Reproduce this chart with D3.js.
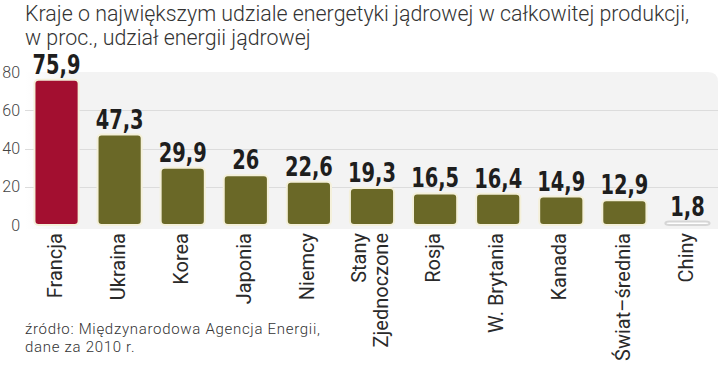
<!DOCTYPE html>
<html>
<head>
<meta charset="utf-8">
<script src="https://cdn.jsdelivr.net/npm/d3@7"></script>
<style>
  body { margin: 0; background: #fff; }
  svg { display: block; }
</style>
</head>
<body>
<svg width="720" height="376"></svg>
<script>
// dane
var countries = ['Francja', 'Ukraina', 'Korea', 'Japonia', 'Niemcy', 'Stany|Zjednoczone',
    'Rosja', 'W. Brytania', 'Kanada', 'Świat–średnia', 'Chiny'];
var values = [75.9, 47.3, 29.9, 26, 22.6, 19.3, 16.5, 16.4, 14.9, 12.9, 1.8];
var yTicks = [0, 20, 40, 60, 80];
var titleLines = ['Kraje o największym udziale energetyki jądrowej w całkowitej produkcji,',
    'w proc., udział energii jądrowej'];
var sourceLines = ['źródło: Międzynarodowa Agencja Energii,', 'dane za 2010 r.'];

var svg = d3.select('svg');
var lightFont = 'Roboto, "Open Sans", sans-serif';
var boldFont = '"DejaVu Sans Condensed", "DejaVu Sans", sans-serif';

var x = d3.scaleBand()
    .domain(countries)
    .range([25, 719])
    .paddingInner(0.3)
    .paddingOuter(0.15);

var y = d3.scaleLinear()
    .domain([0, 80])
    .range([225, 72]);

// tło wykresu
var defs = svg.append('defs');
var grad = defs.append('linearGradient')
    .attr('id', 'bgGrad')
    .attr('x1', 0).attr('x2', 1).attr('y1', 0).attr('y2', 0);
grad.append('stop').attr('offset', '0%').attr('stop-color', '#ffffff');
grad.append('stop').attr('offset', '6%').attr('stop-color', '#f3f3f3');
grad.append('stop').attr('offset', '100%').attr('stop-color', '#f3f3f3');

var bgTop = y(80), bgBottom = 229, bgLeft = 25, bgRight = 718, r = 10;
svg.append('path')
    .attr('d', 'M' + bgLeft + ',' + bgTop + ' H' + (bgRight - r) +
        ' Q' + bgRight + ',' + bgTop + ' ' + bgRight + ',' + (bgTop + r) +
        ' V' + bgBottom + ' H' + bgLeft + ' Z')
    .attr('fill', 'url(#bgGrad)');

// linie siatki
svg.append('g')
    .selectAll('line')
    .data(yTicks.filter(d => d > 0 && d < 80))
    .enter()
    .append('line')
    .attr('x1', bgLeft)
    .attr('x2', bgRight)
    .attr('y1', d => Math.round(y(d)) + 0.5)
    .attr('y2', d => Math.round(y(d)) + 0.5)
    .attr('stroke', '#dcdcdc')
    .attr('stroke-width', 1);

// oś Y
var yAxis = d3.axisLeft(y).tickValues(yTicks).tickSize(0).tickPadding(0);
var yG = svg.append('g')
    .attr('transform', 'translate(20,0)')
    .call(yAxis);
yG.select('.domain').remove();
yG.selectAll('text')
    .attr('fill', '#444')
    .style('font-family', lightFont)
    .style('font-weight', 300)
    .style('font-size', '16px');

// słupki
svg.append('g')
    .selectAll('rect')
    .data(countries)
    .enter()
    .append('rect')
    .attr('x', d => x(d))
    .attr('width', x.bandwidth())
    .attr('y', (d, i) => y(values[i]))
    .attr('height', (d, i) => y(0) - y(values[i]))
    .attr('rx', 4)
    .attr('ry', 4)
    .attr('fill', (d, i) => i === 0 ? '#a30f30' : (values[i] < 5 ? '#ffffff' : '#6a6827'))
    .attr('stroke', (d, i) => values[i] < 5 ? '#d6d6d6' : '#f4f0da')
    .attr('stroke-width', 2);

// wartości
svg.append('g')
    .selectAll('text')
    .data(countries)
    .enter()
    .append('text')
    .attr('transform', (d, i) => 'translate(' + (x(d) + x.bandwidth() / 2) + ',' + (y(values[i]) - 6) + ') scale(0.8,1)')
    .attr('text-anchor', 'middle')
    .attr('fill', '#1e1e1e')
    .style('font-family', boldFont)
    .style('font-weight', 'bold')
    .style('font-size', '27px')
    .text((d, i) => String(values[i]).replace('.', ','));

// etykiety krajów
var labG = svg.append('g');
countries.forEach(function(c) {
    var parts = c.split('|');
    var cx = x(c) + x.bandwidth() / 2;
    parts.forEach(function(p, j) {
        var off = (j - (parts.length - 1) / 2) * 22;
        labG.append('text')
            .attr('transform', 'translate(' + (cx + off - 2) + ',233) rotate(-90)')
            .attr('text-anchor', 'end')
            .attr('dy', '0.36em')
            .attr('fill', '#2a2a2a')
            .style('font-family', lightFont)
            .style('font-size', '20px')
            .text(p);
    });
});

// tytuł
svg.append('g')
    .selectAll('text')
    .data(titleLines)
    .enter()
    .append('text')
    .attr('x', 25)
    .attr('y', (d, i) => 21 + i * 24)
    .attr('fill', '#333')
    .style('font-family', lightFont)
    .style('font-weight', 300)
    .style('font-size', '21.4px')
    .text(d => d);

// źródło
svg.append('g')
    .selectAll('text')
    .data(sourceLines)
    .enter()
    .append('text')
    .attr('x', 25)
    .attr('y', (d, i) => 334 + i * 18)
    .attr('fill', '#333')
    .style('font-family', lightFont)
    .style('font-weight', 300)
    .style('font-size', '15px')
    .style('letter-spacing', '0.7px')
    .text(d => d);
</script>
</body>
</html>
